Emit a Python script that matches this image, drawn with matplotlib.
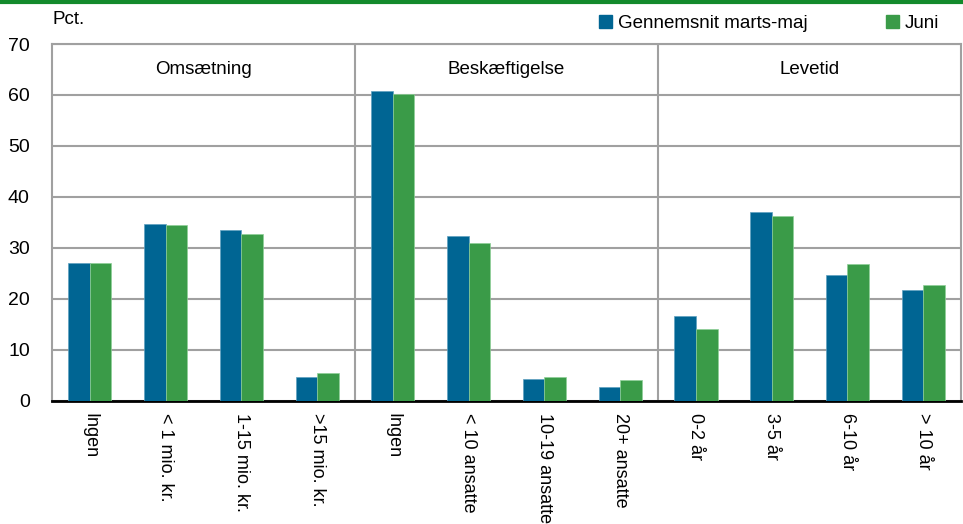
import matplotlib.pyplot as plt
import numpy as np
from matplotlib.lines import Line2D
from matplotlib.patches import Patch

plt.rcParams['font.family'] = ['Liberation Sans', 'DejaVu Sans']

categories = ['Ingen', '< 1 mio. kr.', '1-15 mio. kr.', '>15 mio. kr.',
              'Ingen', '< 10 ansatte', '10-19 ansatte', '20+ ansatte',
              '0-2 år', '3-5 år', '6-10 år', '> 10 år']
groups = ['Omsætning', 'Beskæftigelse', 'Levetid']
marts_maj = [27.0, 34.7, 33.5, 4.7, 60.8, 32.4, 4.3, 2.7, 16.7, 37.0, 24.7, 21.7]
juni = [27.0, 34.5, 32.7, 5.5, 60.2, 30.9, 4.7, 4.1, 14.1, 36.3, 26.9, 22.7]

blue = '#006593'
green = '#3a9b48'
grey = '#a0a0a0'

fig = plt.figure(figsize=(9.63, 5.24), dpi=100)
ax = fig.add_axes([0.054, 0.235, 0.944, 0.681])

x = np.arange(len(categories))
w = 0.285
ax.bar(x - w / 2, marts_maj, w, color=blue, edgecolor='#5fa0c0', linewidth=0.5, zorder=3)
ax.bar(x + w / 2, juni, w, color=green, edgecolor='#8fcf98', linewidth=0.5, zorder=3)

ax.set_xlim(-0.5, len(categories) - 0.5)
ax.set_ylim(0, 70)
ax.set_yticks(range(0, 71, 10))
ax.yaxis.grid(True, color=grey, linewidth=1.5, zorder=0)
ax.set_axisbelow(True)

# group separators and header labels
for i, g in enumerate(groups):
    if i > 0:
        ax.axvline(4 * i - 0.5, color=grey, linewidth=1.5, zorder=1)
    ax.text(4 * i + 1.5, 65, g, ha='center', va='center', fontsize=13.5)

for s in ['left', 'top', 'right']:
    ax.spines[s].set_color(grey)
    ax.spines[s].set_linewidth(1.5)
ax.spines['bottom'].set_color('black')
ax.spines['bottom'].set_linewidth(2)

ax.set_xticks(x)
ax.set_xticklabels(categories, rotation=270, va='top', ha='center')
ax.tick_params(axis='both', length=0)
ax.tick_params(axis='x', pad=9, labelsize=13)
ax.tick_params(axis='y', pad=16, labelsize=14)

fig.text(0.054, 0.962, 'Pct.', fontsize=13.5, ha='left', va='center')

handles = [Patch(color=blue, label='Gennemsnit marts-maj'), Patch(color=green, label='Juni')]
fig.legend(handles=handles, loc='center right', bbox_to_anchor=(0.993, 0.955), ncol=2,
           frameon=False, fontsize=13.5, handlelength=0.7, handleheight=0.7,
           handletextpad=0.3, columnspacing=4.2)

fig.add_artist(Line2D([0, 1], [0.997, 0.997], color='#138a2c', linewidth=3, transform=fig.transFigure))

fig.savefig('out.png', dpi=100)
